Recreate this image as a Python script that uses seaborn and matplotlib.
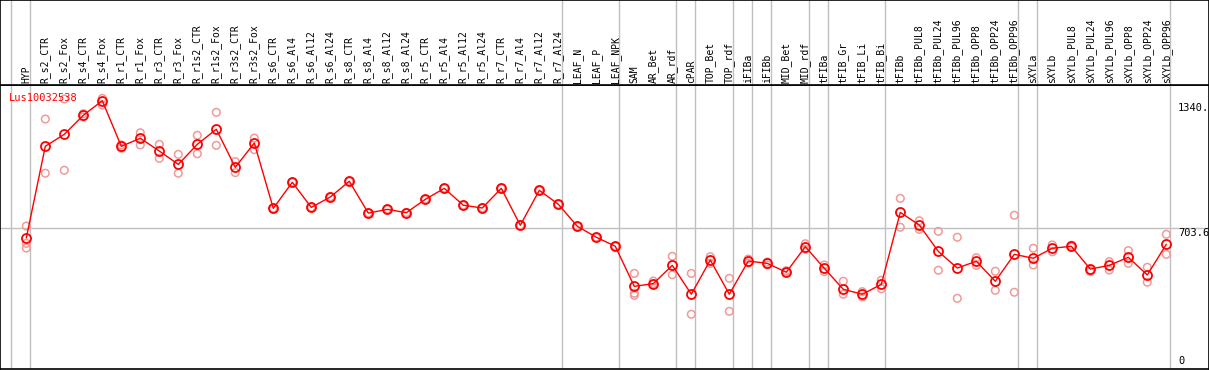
import numpy as np
import pandas as pd
import matplotlib
matplotlib.use("Agg")
import matplotlib.pyplot as plt
import seaborn as sns

sns.set_style("white")
plt.rcParams['font.family'] = ['DejaVu Sans Mono']

# ---- data ----
samples = [
    "HYP", "R_s2_CTR", "R_s2_Fox", "R_s4_CTR", "R_s4_Fox", "R_r1_CTR", "R_r1_Fox",
    "R_r3_CTR", "R_r3_Fox", "R_r1s2_CTR", "R_r1s2_Fox", "R_r3s2_CTR", "R_r3s2_Fox",
    "R_s6_CTR", "R_s6_Al4", "R_s6_Al12", "R_s6_Al24", "R_s8_CTR", "R_s8_Al4",
    "R_s8_Al12", "R_s8_Al24", "R_r5_CTR", "R_r5_Al4", "R_r5_Al12", "R_r5_Al24",
    "R_r7_CTR", "R_r7_Al4", "R_r7_Al12", "R_r7_Al24", "LEAF_N", "LEAF_P", "LEAF_NPK",
    "SAM", "AR_Bet", "AR_rdf", "cPAR", "TOP_Bet", "TOP_rdf", "iFIBa", "iFIBb",
    "MID_Bet", "MID_rdf", "tFIBa", "tFIB_Gr", "tFIB_Li", "tFIB_Bi", "tFIBb",
    "tFIBb_PUL8", "tFIBb_PUL24", "tFIBb_PUL96", "tFIBb_OPP8", "tFIBb_OPP24",
    "tFIBb_OPP96", "sXYLa", "sXYLb", "sXYLb_PUL8", "sXYLb_PUL24", "sXYLb_PUL96",
    "sXYLb_OPP8", "sXYLb_OPP24", "sXYLb_OPP96",
]

groups = (["HYP"] + ["R"] * 28 + ["LEAF"] * 3 + ["SAM"] * 3 + ["cPAR"] + ["TOP"] * 2
          + ["iFIBa"] + ["iFIBb"] + ["MID"] * 2 + ["tFIBa"] + ["tFIB"] * 3
          + ["tFIBb"] * 7 + ["sXYLa"] + ["sXYLb"] * 7)

means = [
    654, 1121, 1182, 1279, 1353, 1121, 1162, 1097, 1029, 1131, 1208, 1014, 1138,
    805, 938, 810, 863, 943, 781, 800, 783, 851, 907, 821, 807, 907, 719, 897, 826,
    714, 658, 612,
    408, 422, 515, 368, 542, 368, 537, 525, 480, 610, 500, 393, 368, 418,
    785, 720, 586, 501, 536, 434, 571, 551, 602, 612, 496, 515, 556, 466, 622,
]

rep_a = [
    715, 1260, 1362, 1287, 1365, 1128, 1190, 1131, 1080, 1177, 1294, 1043, 1163,
    805, 938, 810, 863, 943, 781, 800, 783, 851, 907, 821, 807, 907, 719, 897, 826,
    714, 658, 612,
    474, 435, 561, 474, 559, 449, 547, 532, 488, 625, 517, 434, 381, 439,
    856, 742, 688, 658, 554, 485, 770, 602, 619, 617, 488, 534, 590, 505, 673,
]

rep_b = [
    627, 984, 999, 1270, 1331, 1111, 1128, 1060, 984, 1083, 1126, 987, 1104,
    805, 938, 810, 863, 943, 781, 800, 783, 851, 907, 821, 807, 907, 719, 897, 826,
    714, 658, 612,
    373, 422, 467, 266, 525, 281, 527, 517, 480, 597, 483, 368, 354, 396,
    709, 698, 490, 347, 515, 388, 378, 517, 584, 608, 483, 491, 525, 429, 571,
]

rep_c = {"HYP": 603, "SAM": 362}

y_labels = [1340.0, 703.6, 0]
y_label_text = ["1340.", "703.6", "0"]
gene = "Lus10032538"

# ---- tables ----
x = np.arange(len(samples))
df_mean = pd.DataFrame({"x": x, "value": means})
reps = pd.DataFrame({"x": np.concatenate([x, x]), "value": rep_a + rep_b})
extra = pd.DataFrame({"x": [samples.index(k) for k in rep_c], "value": list(rep_c.values())})
reps = pd.concat([reps, extra], ignore_index=True)

group_starts = [i for i in range(len(groups)) if i == 0 or groups[i] != groups[i - 1]]
group_starts.append(len(groups))

W, H = 1209, 370
fig = plt.figure(figsize=(W / 100, H / 100), dpi=100)

xmin = -26.3 / 19
xmax = (W - 26.3) / 19
px_per_unit = 125 / 636.4
y_zero_px = 366.5
top_px, bot_px = 85, 369

ax = fig.add_axes([0, (H - bot_px) / H, 1, (bot_px - top_px) / H])
ax_lab = fig.add_axes([0, (H - top_px) / H, 1, top_px / H])

ax.set_xlim(xmin, xmax)
ax.set_ylim((y_zero_px - bot_px) / px_per_unit, (y_zero_px - top_px) / px_per_unit)
ax_lab.set_xlim(xmin, xmax)
ax_lab.set_ylim(0, 1)

grey = "#c0c0c0"
for a in (ax, ax_lab):
    for g in group_starts:
        a.axvline(g - 0.79, color=grey, lw=1, zorder=0)
    a.set_xticks([])
    a.set_yticks([])
    for s in a.spines.values():
        s.set_color("black")
        s.set_linewidth(1.2)

ax.axhline(y_labels[1], color=grey, lw=1, zorder=0)

# replicates
sns.scatterplot(data=reps, x="x", y="value", ax=ax, marker="o", s=30,
                facecolor="none", edgecolor="#f09a9a", linewidth=1.1, zorder=2)

# mean line
sns.lineplot(data=df_mean, x="x", y="value", ax=ax, color="red", lw=1,
             marker="o", markersize=6.5, markerfacecolor="none",
             markeredgecolor="red", markeredgewidth=1.3, zorder=3)
ax.set_xlabel("")
ax.set_ylabel("")

# axis value labels on the right
for v, t in zip(y_labels, y_label_text):
    ax.text(1178 / W, v, t, transform=ax.get_yaxis_transform(),
            ha="left", va="bottom" if v == 0 else "top", fontsize=7.5, color="black")

ax.text(9 / W, 1 - (93 - top_px) / (bot_px - top_px), gene, transform=ax.transAxes,
        ha="left", va="top", fontsize=7.5, color="red")

# sample labels
for i, name in enumerate(samples):
    ax_lab.text(i, 2 / top_px, name, rotation=90, ha="center", va="bottom",
                fontsize=7, color="black")

fig.savefig("out.png", dpi=100)
